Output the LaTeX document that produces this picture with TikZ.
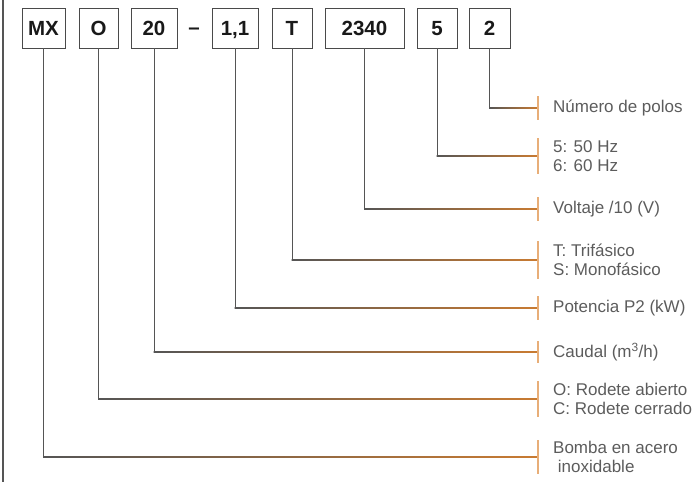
\documentclass[tikz,border=0pt]{standalone}
\usepackage{fontspec}
\setmainfont{Liberation Sans}
\usetikzlibrary{calc,positioning}
\definecolor{boxgray}{HTML}{4A4A4A}
\definecolor{linkgray}{HTML}{555555}
\definecolor{linkorange}{HTML}{C97B32}
\definecolor{tickorange}{HTML}{E8AE78}
\definecolor{textgray}{HTML}{5C5C5C}
\tikzset{%
    codetext/.style={inner sep=0pt,text height=14.7pt,text depth=0pt,%
        font=\fontsize{20.5}{23}\selectfont\bfseries,text=black!90},%
    codebox/.style={codetext,draw=boxgray,line width=0.9pt,minimum height=40pt},%
    link/.style={linkgray,line width=0.9pt},%
    tickmark/.style={tickorange,line width=1.3pt},%
    legend/.style={inner sep=0pt,align=left,text=textgray,%
        font=\fontsize{17}{19.5}\selectfont}%
}
\newcommand{\Code}[4]{%
  \coordinate (#1-end) at (538,#2);
  \draw[link] (#1.south) -- (#1.south |- #1-end);
  \shade[left color=linkgray,right color=linkorange]
    ($(#1.south |- #1-end)+(-0.45,-0.45)$) rectangle ($(#1-end)+(0,0.45)$);
  \draw[tickmark] ($(#1-end)+(0,-#3)$) -- ($(#1-end)+(0,#3)$);
  \node[legend,right=15pt of #1-end] (#1-txt) {#4};
}

\begin{document}
\begin{tikzpicture}[x=1pt,y=-1pt]
  \useasboundingbox (0,0) rectangle (693,482);
  \draw[linkgray,line width=1.1pt] (3,0) -- (3,482);
  % code boxes
  \node[codebox,minimum width=43pt] (mx)  at (43.5,28)  {MX};
  \node[codebox,minimum width=39pt] (o)   at (98.5,28)  {O};
  \node[codebox,minimum width=46pt] (q)   at (154,28)   {20};
  \node[codetext] (dash) at (194,27) {–};
  \node[codebox,minimum width=46pt] (p)   at (235,28)   {1,1};
  \node[codebox,minimum width=40pt] (ph)  at (292,28)   {T};
  \node[codebox,minimum width=79pt] (v)   at (364.5,28) {2340};
  \node[codebox,minimum width=40pt] (f)   at (437,28)   {5};
  \node[codebox,minimum width=41pt] (pol) at (489.5,28) {2};
  % legend
  \Code{pol}{108}{12}{Número de polos};
  \Code{f}{156}{18}{5: 50 Hz\\6: 60 Hz};
  \Code{v}{209}{12}{Voltaje /10 (V)};
  \Code{ph}{260}{19}{T: Trifásico\\S: Monofásico};
  \Code{p}{308}{12}{Potencia P2 (kW)};
  \Code{q}{352}{11}{Caudal (m\textsuperscript{3}/h)};
  \Code{o}{399}{18}{O: Rodete abierto\\C: Rodete cerrado};
  \Code{mx}{457}{17}{Bomba en acero\\\ inoxidable};
\end{tikzpicture}
\end{document}
